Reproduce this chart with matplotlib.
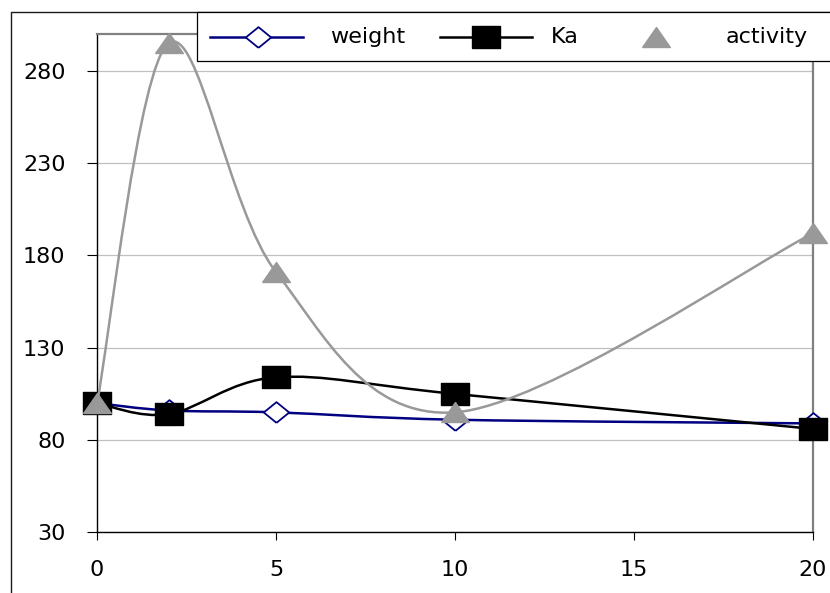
import numpy as np
import matplotlib
matplotlib.use('Agg')
import matplotlib.pyplot as plt
from matplotlib.path import Path
from matplotlib.patches import PathPatch, Rectangle
from matplotlib.lines import Line2D

# ---- data ----
x = [0, 2, 5, 10, 20]
weight = [100, 96, 95, 91, 89]
ka = [100, 94, 114, 105, 86]
activity = [100, 295, 171, 95, 192]
series_names = ['weight', 'Ka', 'activity']
y_ticks = [30, 80, 130, 180, 230, 280]
x_ticks = [0, 5, 10, 15, 20]

plt.rcParams['font.family'] = ['DejaVu Sans']

W, H = 830, 593
fig = plt.figure(figsize=(8.3, 5.93), dpi=100)


def fx(px):
    return px / W


def fy(py):
    return 1 - py / H


ax = fig.add_axes([fx(97), fy(532.3), fx(813) - fx(97), fy(34) - fy(532.3)])
ax.set_xlim(0, 20)
ax.set_ylim(30, 300)

NAVY = '#000080'
GRAY = '#999999'

# marker shapes (slightly wider than tall, like the reference)
sq = [(-1, -0.79), (1, -0.79), (1, 0.79), (-1, 0.79), (-1, -0.79)]
dia = [(0, -0.815), (1, 0), (0, 0.815), (-1, 0), (0, -0.815)]
tri = [(-1, -0.72), (1, -0.72), (0, 0.72), (-1, -0.72)]


def smooth_path(xs, ys):
    """Spreadsheet-style smoothed line: cubic Bezier segments through the
    data points with control arms of 1/6 of the neighbour chord."""
    pts = np.column_stack([xs, ys]).astype(float)
    n = len(pts)
    verts = [pts[0]]
    codes = [Path.MOVETO]
    for i in range(n - 1):
        p0 = pts[i - 1] if i > 0 else pts[i]
        p1 = pts[i]
        p2 = pts[i + 1]
        p3 = pts[i + 2] if i + 2 < n else pts[i + 1]
        c1 = p1 + (p2 - p0) / 6.0
        c2 = p2 - (p3 - p1) / 6.0
        verts += [c1, c2, p2]
        codes += [Path.CURVE4] * 3
    return Path(np.array(verts), codes)


styles = [
    (weight, NAVY, dia, 18.3, 'white', NAVY, 1.3),
    (ka, 'black', sq, 20, 'black', 'black', 1.0),
    (activity, GRAY, tri, 20, GRAY, GRAY, 1.0),
]
for k, (ys, col, mk, ms, fc, ec, mew) in enumerate(styles):
    z = 3 + k
    patch = PathPatch(smooth_path(x, ys), facecolor='none', edgecolor=col,
                      lw=1.8, zorder=z, capstyle='round', joinstyle='round')
    ax.add_patch(patch)
    ax.plot(x, ys, linestyle='none', marker=mk, ms=ms, mfc=fc, mec=ec,
            mew=mew, zorder=z + 0.5, clip_on=False)

# axes styling
ax.set_xticks(x_ticks)
ax.set_yticks(y_ticks)
ax.set_xticklabels([str(v) for v in x_ticks])
ax.set_yticklabels([str(v) for v in y_ticks])
ax.yaxis.grid(True, color='#c0c0c0', lw=0.9)
ax.set_axisbelow(True)
for s in ['left', 'bottom']:
    ax.spines[s].set_color('black')
    ax.spines[s].set_linewidth(1.0)
    ax.spines[s].set_zorder(1)
for s in ['top', 'right']:
    ax.spines[s].set_color('#808080')
    ax.spines[s].set_linewidth(1.6)
    ax.spines[s].set_zorder(1)
ax.tick_params(axis='y', direction='out', length=7.2, width=0.8, pad=15.5,
               labelsize=16, colors='black')
ax.tick_params(axis='x', direction='out', length=5.8, width=0.8, pad=14.5,
               labelsize=16, colors='black')

# outer chart-area border (cropped on right/bottom)
fig.add_artist(Line2D([fx(10.7), fx(10.7), fx(845)], [fy(610), fy(11.7), fy(11.7)],
                      color='#1a1a1a', lw=1.0, transform=fig.transFigure,
                      clip_on=False))

# legend box
fig.add_artist(Rectangle((fx(197), fy(61)), fx(845) - fx(197), fy(11.7) - fy(61),
                         facecolor='white', edgecolor='black', lw=0.9,
                         transform=fig.transFigure, zorder=5, clip_on=False))
ly = fy(36.5)
# weight handle
fig.add_artist(Line2D([fx(210), fx(303)], [ly, ly], color=NAVY, lw=1.8,
                      transform=fig.transFigure, zorder=6))
fig.add_artist(Line2D([fx(258)], [ly], linestyle='none', marker=dia, ms=18.3,
                      mfc='white', mec=NAVY, mew=1.3,
                      transform=fig.transFigure, zorder=7))
# Ka handle
fig.add_artist(Line2D([fx(440), fx(532)], [ly, ly], color='black', lw=1.8,
                      transform=fig.transFigure, zorder=6))
fig.add_artist(Line2D([fx(486)], [ly], linestyle='none', marker=sq, ms=20,
                      mfc='black', mec='black', mew=1.0,
                      transform=fig.transFigure, zorder=7))
# activity handle (marker only)
fig.add_artist(Line2D([fx(656)], [ly], linestyle='none', marker=tri, ms=20,
                      mfc=GRAY, mec=GRAY, mew=1.0,
                      transform=fig.transFigure, zorder=7))

text_centers = [368, 565, 767]
for name, cx in zip(series_names, text_centers):
    fig.text(fx(cx), fy(43.3), name, ha='center', va='baseline', fontsize=16,
             color='black', zorder=8)

fig.savefig('out.png', dpi=100)
